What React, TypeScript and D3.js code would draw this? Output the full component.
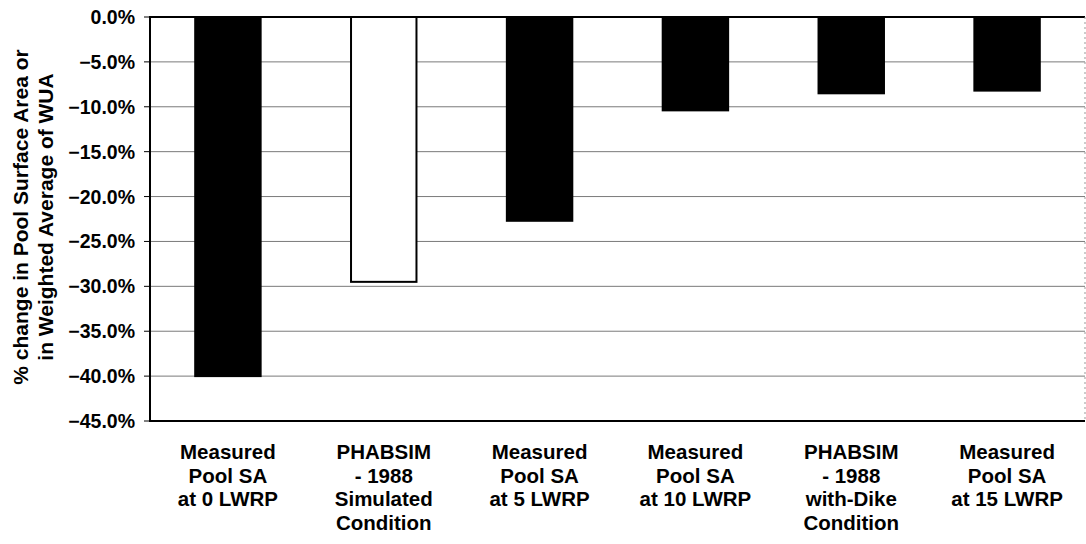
import React from "react";
import * as d3 from "d3";

const categories: string[][] = [
  ["Measured", "Pool SA", "at 0 LWRP"],
  ["PHABSIM", "- 1988", "Simulated", "Condition"],
  ["Measured", "Pool SA", "at 5 LWRP"],
  ["Measured", "Pool SA", "at 10 LWRP"],
  ["PHABSIM", "- 1988", "with-Dike", "Condition"],
  ["Measured", "Pool SA", "at 15 LWRP"],
];
const values: number[] = [-40.0, -29.5, -22.7, -10.4, -8.5, -8.2];
const fills: string[] = ["#000", "#fff", "#000", "#000", "#000", "#000"];
const yTicks: number[] = [0, -5, -10, -15, -20, -25, -30, -35, -40, -45];
const yLabelLines: string[] = ["% change in Pool Surface Area or", "in Weighted Average of WUA"];

const W = 1086;
const H = 544;
const left = 150;
const right = 1085;
const top = 17;
const bottom = 421;
const font = "'Liberation Sans', Arial, sans-serif";

export default function App() {
  const x = d3
    .scaleBand<number>()
    .domain(d3.range(categories.length))
    .range([left, right])
    .paddingInner(0.58)
    .paddingOuter(0.29);
  const y = d3.scaleLinear().domain([0, -45]).range([top, bottom]);

  return (
    <svg
      width={W}
      height={H}
      style={{ position: "absolute", left: 0, top: 0, background: "#fff" }}
      fontFamily={font}
      fontWeight="bold"
    >
      {/* gridlines */}
      {yTicks
        .filter((t) => t !== 0 && t !== -45)
        .map((t) => (
          <line
            key={"g" + t}
            x1={left}
            x2={right}
            y1={y(t)}
            y2={y(t)}
            stroke="#7a7a7a"
            strokeWidth={1}
          />
        ))}
      {/* bars */}
      {values.map((v, i) => (
        <rect
          key={"b" + i}
          x={x(i)!}
          y={y(0)}
          width={x.bandwidth()}
          height={y(v) - y(0)}
          fill={fills[i]}
          stroke="#000"
          strokeWidth={2}
        />
      ))}
      {/* frame */}
      <line x1={left} x2={right} y1={top} y2={top} stroke="#000" strokeWidth={2} />
      <line x1={right} x2={right} y1={top} y2={bottom} stroke="#999" strokeWidth={1} strokeDasharray="2,3" />
      <line x1={left} x2={left} y1={top - 1} y2={bottom + 1} stroke="#000" strokeWidth={2} />
      <line x1={left} x2={right} y1={bottom} y2={bottom} stroke="#000" strokeWidth={2} />
      {/* y ticks */}
      {yTicks.map((t) => (
        <g key={"t" + t}>
          <line x1={left - 6} x2={left} y1={y(t)} y2={y(t)} stroke="#000" strokeWidth={1} />
          <text
            x={left - 15}
            y={y(t)}
            dy="0.36em"
            textAnchor="end"
            fontSize={19.5}
            fill="#000"
          >
            {d3.format(".1f")(t) + "%"}
          </text>
        </g>
      ))}
      {/* y label */}
      {yLabelLines.map((line, i) => (
        <text
          key={"yl" + i}
          transform={`translate(${28 + i * 25},${(top + bottom) / 2 - 2}) rotate(-90)`}
          textAnchor="middle"
          fontSize={21}
          fill="#000"
        >
          {line}
        </text>
      ))}
      {/* x labels */}
      {categories.map((lines, i) => (
        <text
          key={"x" + i}
          x={x(i)! + x.bandwidth() / 2}
          textAnchor="middle"
          fontSize={20.5}
          fill="#000"
        >
          {lines.map((l, j) => (
            <tspan key={j} x={x(i)! + x.bandwidth() / 2} y={459 + j * 23.5}>
              {l}
            </tspan>
          ))}
        </text>
      ))}
    </svg>
  );
}
